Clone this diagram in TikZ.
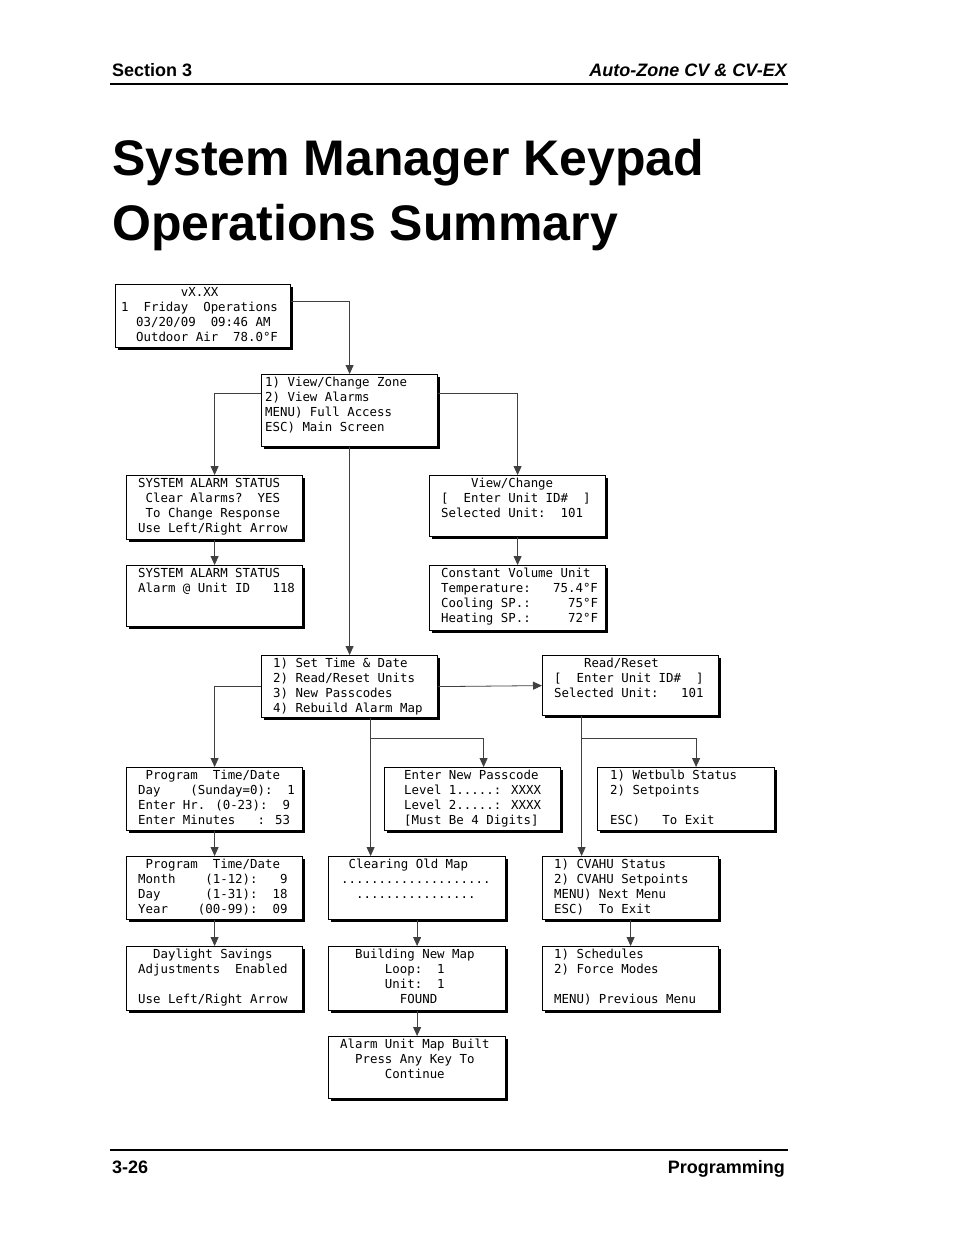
\documentclass[tikz,border=0pt]{standalone}
\usepackage{fontspec}
\setmainfont{Liberation Sans}
\newfontfamily\mono{DejaVu Sans Mono}
\usetikzlibrary{arrows.meta}
\tikzset{
  arr/.style={draw=black!75, line width=0.8pt, -{Triangle[length=9pt,width=8pt]}},
  scrn/.style={draw, line width=1.2pt, fill=white, inner sep=0pt, anchor=north west},
  shd/.style={fill=black},
  txt/.style={anchor=north west, inner sep=0pt, align=left, font=\mono\fontsize{12.4}{15}\selectfont}
}
\newcommand\bx[7]{%
  \fill[shd] (#2+3,#3+3) rectangle (#4,#5);
  \node[scrn, minimum width=#4-#2-3, minimum height=#5-#3-3] (#1) at (#2,#3) {};
  \node[txt] (#1t) at (#6,#3+3) {#7};
}
\begin{document}
\begin{tikzpicture}[x=1pt,y=-1pt]
\useasboundingbox (0,0) rectangle (954,1235);
% header
\node[anchor=base west, font=\bfseries\fontsize{18}{20}\selectfont, inner sep=0] (hl) at (112,76) {Section 3};
\node[anchor=base east, font=\bfseries\itshape\fontsize{18}{20}\selectfont, inner sep=0] (hr) at (787,76) {Auto-Zone CV \& CV-EX};
\draw[line width=2pt] (110,84) -- (788,84);
\node[anchor=base west, font=\bfseries\fontsize{50}{60}\selectfont, inner sep=0] (t1) at (112,175) {System Manager Keypad};
\node[anchor=base west, font=\bfseries\fontsize{50}{60}\selectfont, inner sep=0] (t2) at (112,240) {Operations Summary};
% footer
\draw[line width=2pt] (110,1150) -- (788,1150);
\node[anchor=base west, font=\bfseries\fontsize{18}{20}\selectfont, inner sep=0] (fl) at (112,1173) {3-26};
\node[anchor=base east, font=\bfseries\fontsize{18}{20}\selectfont, inner sep=0] (fr) at (785,1173) {Programming};
% boxes
\bx{A}{115}{284}{293}{350}{121}{~~~~~~~~vX.XX\\1~~Friday~~Operations\\~~03/20/09~~09:46 AM\\~~Outdoor Air~~78.0°F}
\bx{B}{261}{374}{440}{449}{265}{1) View/Change Zone\\2) View Alarms\\MENU) Full Access\\ESC) Main Screen}
\bx{C}{126}{475}{305}{542}{138}{SYSTEM ALARM STATUS\\~Clear Alarms?~~YES\\~To Change Response\\Use Left/Right Arrow}
\bx{D}{429}{475}{608}{539}{441}{~~~~View/Change\\{[}~~Enter Unit ID\#~~]\\Selected Unit:~~101}
\bx{E}{126}{565}{305}{629}{138}{SYSTEM ALARM STATUS\\Alarm @ Unit ID~~~118}
\bx{F}{429}{565}{608}{633}{441}{Constant Volume Unit\\Temperature:~~~75.4°F\\Cooling SP.:~~~~~75°F\\Heating SP.:~~~~~72°F}
\bx{G}{261}{655}{440}{720}{273}{1) Set Time \& Date\\2) Read/Reset Units\\3) New Passcodes\\4) Rebuild Alarm Map}
\bx{H}{542}{655}{721}{718}{554}{~~~~Read/Reset\\{[}~~Enter Unit ID\#~~]\\Selected Unit:~~~101}
\bx{I}{126}{767}{305}{833}{138}{~Program~~Time/Date\\Day~~~~(Sunday=0):~~1\\Enter Hr. (0-23):~~9\\Enter Minutes~~~: 53}
\bx{J}{384}{767}{563}{833}{404}{Enter New Passcode\\Level 1.....: XXXX\\Level 2.....: XXXX\\{[}Must Be 4 Digits]}
\bx{K}{597}{767}{777}{833}{610}{1) Wetbulb Status\\2) Setpoints\\~\\ESC)~~ To Exit}
\bx{L}{126}{856}{305}{922}{138}{~Program~~Time/Date\\Month~~~~(1-12):~~~9\\Day~~~~~~(1-31):~~18\\Year~~~~(00-99):~~09}
\bx{M}{328}{856}{508}{922}{341}{~Clearing Old Map\\....................\\~~................}
\bx{N}{542}{856}{721}{922}{554}{1) CVAHU Status\\2) CVAHU Setpoints\\MENU) Next Menu\\ESC)~~To Exit}
\bx{O}{126}{946}{305}{1013}{138}{~~Daylight Savings\\Adjustments~~Enabled\\~\\Use Left/Right Arrow}
\bx{P}{328}{946}{508}{1013}{340}{~~Building New Map\\~~~~~~Loop:~~1\\~~~~~~Unit:~~1\\~~~~~~~~FOUND}
\bx{Q}{542}{946}{721}{1013}{554}{1) Schedules\\2) Force Modes\\~\\MENU) Previous Menu}
\bx{R}{328}{1036}{508}{1101}{340}{Alarm Unit Map Built\\~~Press Any Key To\\~~~~~~Continue}
% connectors
\draw[arr] ([yshift=14.5pt]A.east) -| (B.north);
\draw[arr] ([yshift=17pt]B.west) -| (C.north);
\draw[arr] ([yshift=17pt]B.east) -| (D.north);
\draw[arr] (B.south) -- (G.north);
\draw[arr] (C.south) -- (E.north);
\draw[arr] (D.south) -- (F.north);
\draw[arr] (G.west) -| (I.north);
\draw[arr] (G.east) -- (H.west);
\coordinate (g1) at ([xshift=21pt]G.south);
\coordinate (g2) at ([yshift=-20pt]g1);
\draw[arr] (g1) -- (g1 |- M.north);
\draw[arr] (g2) -| ([xshift=11pt]J.north);
\coordinate (h1) at ([xshift=-49pt]H.south);
\coordinate (h2) at ([yshift=-22pt]h1);
\draw[arr] (h1) -- (h1 |- N.north);
\draw[arr] (h2) -| ([xshift=10pt]K.north);
\draw[arr] (I.south) -- (L.north);
\draw[arr] (L.south) -- (O.north);
\draw[arr] (M.south) -- (P.north);
\draw[arr] (P.south) -- (R.north);
\draw[arr] (N.south) -- (Q.north);
\end{tikzpicture}
\end{document}
